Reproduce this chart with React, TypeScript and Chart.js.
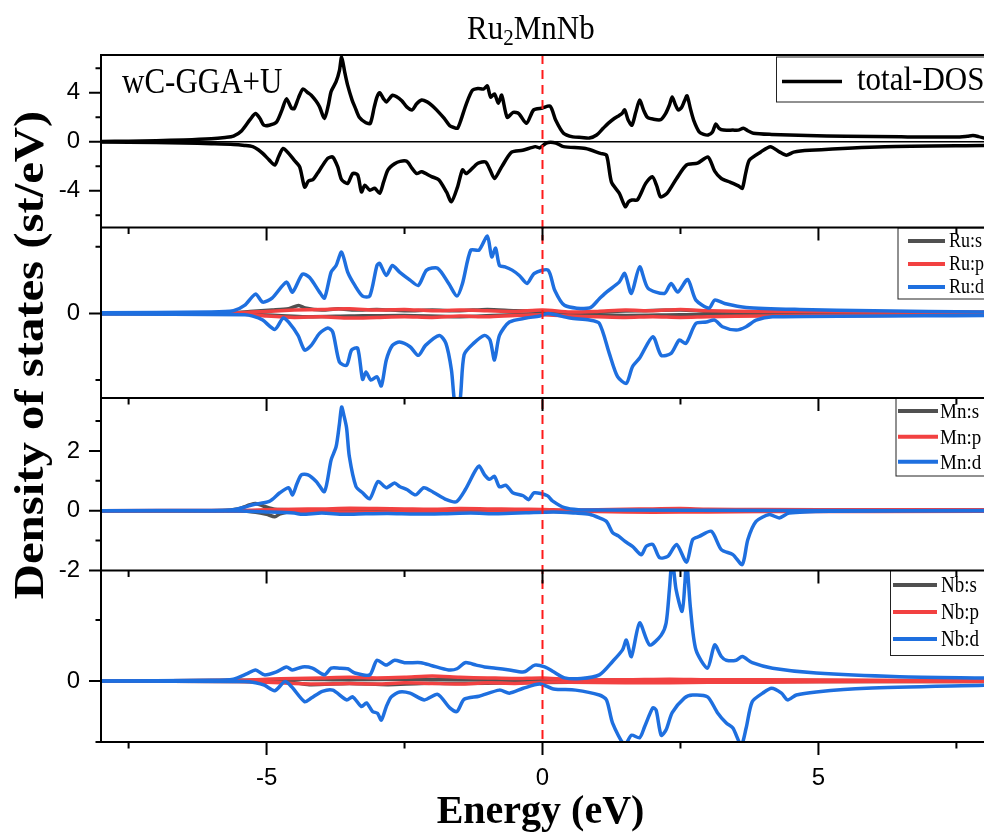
import React, { useEffect, useRef } from 'react';
import { Chart, registerables } from 'chart.js';

Chart.register(...registerables);

type Pt = [number, number];

// ---------- axes / ticks ----------
const E_MIN = -8;
const E_MAX = 8;
const FERMI = 0;
const X_MAJOR = [-5, 0, 5];
const X_MINOR = [-7.5, -2.5, 2.5, 7.5];

const TOT_RANGE = [-7, 7.08];
const TOT_MAJOR = [-4, 0, 4];
const TOT_MINOR = [-6, -2, 2, 6];
const RU_RANGE = [-1.27, 1.29];
const RU_MAJOR = [0];
const RU_MINOR = [-1, 1];
const MN_RANGE = [-2, 3.77];
const MN_MAJOR = [-2, 0, 2];
const MN_MINOR = [-1, 1, 3];
const NB_RANGE = [-1, 1.81];
const NB_MAJOR = [0];
const NB_MINOR = [-1, 1];

// ---------- data (E in eV, DOS in st/eV) ----------
const totalUp: Pt[] = [[-8,0.02],[-7.5,0.05],[-7,0.09],[-6.5,0.15],[-6,0.25],[-5.75,0.35],[-5.6,0.45],[-5.45,0.9],[-5.3,1.8],[-5.2,2.3],[-5.12,1.9],[-5.05,1.35],[-4.95,1.35],[-4.82,1.6],[-4.72,2.6],[-4.64,3.5],[-4.55,2.75],[-4.5,2.7],[-4.42,3.6],[-4.34,4.3],[-4.25,4.0],[-4.19,3.8],[-4.1,3.3],[-4.04,2.85],[-3.95,1.9],[-3.88,3.0],[-3.83,4.1],[-3.74,4.9],[-3.68,5.8],[-3.64,6.9],[-3.58,5.6],[-3.53,4.6],[-3.45,3.4],[-3.4,2.85],[-3.32,2.0],[-3.2,1.55],[-3.12,1.5],[-3.05,2.8],[-3.0,3.65],[-2.95,4.0],[-2.88,3.5],[-2.83,3.25],[-2.76,3.6],[-2.72,3.8],[-2.65,3.7],[-2.55,3.35],[-2.46,2.85],[-2.36,2.6],[-2.28,3.1],[-2.19,3.4],[-2.09,3.25],[-2.0,2.95],[-1.92,2.6],[-1.78,1.9],[-1.68,1.3],[-1.6,1.15],[-1.54,1.1],[-1.48,1.75],[-1.38,3.1],[-1.27,4.2],[-1.17,4.35],[-1.07,4.3],[-1.0,4.55],[-0.94,3.65],[-0.87,3.9],[-0.8,3.15],[-0.74,3.8],[-0.64,2.0],[-0.53,2.4],[-0.43,2.3],[-0.29,1.5],[-0.16,2.6],[0,2.75],[0.14,2.9],[0.24,1.75],[0.38,0.7],[0.55,0.4],[0.71,0.35],[0.85,0.3],[0.98,0.55],[1.1,1.1],[1.19,1.5],[1.3,1.9],[1.39,2.15],[1.44,2.3],[1.49,2.6],[1.55,1.8],[1.62,1.35],[1.69,2.4],[1.76,3.4],[1.83,2.6],[1.9,2.0],[2.0,1.85],[2.14,1.8],[2.23,2.3],[2.3,3.0],[2.35,3.65],[2.41,3.0],[2.46,2.6],[2.52,2.8],[2.57,3.3],[2.62,3.75],[2.68,2.7],[2.74,1.75],[2.84,0.8],[2.92,0.6],[3.0,0.55],[3.08,0.8],[3.14,1.45],[3.2,1.1],[3.28,0.95],[3.45,0.95],[3.55,0.95],[3.64,1.1],[3.72,0.9],[3.82,0.7],[4.15,0.6],[4.8,0.5],[5.5,0.45],[6.5,0.4],[7.5,0.38],[7.7,0.45],[7.8,0.5],[7.9,0.42],[8,0.3]];
const totalDown: Pt[] = [[-8,-0.02],[-7,-0.06],[-6.5,-0.1],[-6,-0.16],[-5.6,-0.22],[-5.4,-0.3],[-5.25,-0.4],[-5.15,-0.65],[-5.07,-0.95],[-4.95,-1.5],[-4.85,-1.9],[-4.78,-1.2],[-4.7,-0.55],[-4.6,-0.95],[-4.5,-1.5],[-4.4,-2.05],[-4.31,-3.7],[-4.24,-3.2],[-4.16,-3.1],[-4.08,-2.6],[-4.0,-2.05],[-3.89,-1.35],[-3.8,-1.25],[-3.71,-2.05],[-3.64,-3.1],[-3.53,-3.4],[-3.44,-2.6],[-3.35,-2.7],[-3.28,-4.1],[-3.22,-3.55],[-3.13,-3.95],[-3.04,-3.8],[-2.95,-4.2],[-2.88,-3.3],[-2.8,-2.3],[-2.68,-1.8],[-2.58,-1.6],[-2.46,-1.6],[-2.36,-2.2],[-2.28,-2.6],[-2.19,-2.45],[-2.01,-2.85],[-1.88,-3.1],[-1.74,-4.1],[-1.65,-4.9],[-1.54,-3.7],[-1.45,-2.3],[-1.38,-2.6],[-1.17,-1.75],[-1.03,-1.65],[-0.95,-2.3],[-0.87,-3.0],[-0.74,-2.05],[-0.56,-0.85],[-0.36,-0.7],[-0.13,-0.4],[-0.05,-0.5],[0.07,-0.1],[0.24,-0.1],[0.38,-0.4],[0.78,-0.55],[1.05,-0.95],[1.16,-1.1],[1.25,-3.3],[1.39,-4.2],[1.5,-5.3],[1.56,-4.9],[1.62,-4.75],[1.72,-4.75],[1.87,-3.4],[1.99,-2.85],[2.07,-3.6],[2.14,-4.5],[2.26,-4.2],[2.43,-3.0],[2.61,-1.9],[2.81,-1.75],[3.0,-1.25],[3.12,-2.4],[3.24,-3.0],[3.4,-3.3],[3.55,-3.6],[3.62,-3.8],[3.68,-2.6],[3.75,-1.5],[3.95,-0.85],[4.13,-0.4],[4.3,-0.85],[4.42,-1.1],[4.55,-0.85],[4.84,-0.7],[6.2,-0.4],[8,-0.3]];

const ruSUp: Pt[] = [[-8,0],[-5.6,0.01],[-5.3,0.03],[-4.9,0.05],[-4.6,0.07],[-4.42,0.12],[-4.3,0.08],[-4,0.05],[-3.7,0.07],[-3.4,0.05],[-3,0.06],[-2.5,0.04],[-2,0.05],[-1.5,0.04],[-1,0.06],[-0.5,0.04],[0,0.03],[0.5,0.01],[1.2,0.03],[1.8,0.04],[2.5,0.05],[3,0.03],[4,0.01],[8,0.01]];
const ruSDown: Pt[] = [[-8,0],[-5.5,-0.01],[-4.8,-0.03],[-4.3,-0.05],[-3.5,-0.04],[-2.5,-0.03],[-1.5,-0.05],[-0.5,-0.02],[0.5,-0.01],[1.5,-0.03],[2.5,-0.02],[3.5,-0.02],[8,-0.01]];
const ruPUp: Pt[] = [[-8,0],[-5.5,0.01],[-5,0.03],[-4.5,0.05],[-4,0.06],[-3.5,0.07],[-3,0.05],[-2.5,0.06],[-2,0.04],[-1.5,0.05],[-1,0.04],[-0.5,0.03],[0,0.05],[0.5,0.02],[1,0.03],[1.5,0.05],[2,0.04],[2.5,0.06],[3,0.04],[4,0.03],[6,0.02],[8,0.02]];
const ruPDown: Pt[] = [[-8,0],[-5.5,-0.01],[-5,-0.04],[-4.5,-0.06],[-4,-0.05],[-3.5,-0.07],[-3,-0.06],[-2.5,-0.05],[-2,-0.06],[-1.5,-0.04],[-1,-0.05],[-0.5,-0.03],[0,-0.02],[0.5,-0.04],[1,-0.05],[1.5,-0.06],[2,-0.05],[2.5,-0.06],[3,-0.05],[4,-0.04],[6,-0.03],[8,-0.02]];
const ruDUp: Pt[] = [[-8,0.01],[-6,0.02],[-5.6,0.04],[-5.4,0.12],[-5.2,0.29],[-5.07,0.17],[-4.9,0.23],[-4.64,0.47],[-4.53,0.32],[-4.35,0.59],[-4.22,0.54],[-4.04,0.32],[-3.95,0.23],[-3.83,0.62],[-3.74,0.72],[-3.64,0.92],[-3.53,0.62],[-3.4,0.42],[-3.26,0.26],[-3.13,0.26],[-3.0,0.72],[-2.95,0.75],[-2.83,0.57],[-2.72,0.72],[-2.59,0.62],[-2.4,0.5],[-2.25,0.42],[-2.1,0.65],[-1.9,0.68],[-1.7,0.45],[-1.55,0.26],[-1.45,0.45],[-1.3,0.95],[-1.15,0.95],[-1.0,1.16],[-0.92,0.85],[-0.85,0.98],[-0.78,0.72],[-0.68,0.7],[-0.55,0.65],[-0.42,0.57],[-0.28,0.45],[-0.15,0.6],[0.1,0.65],[0.22,0.35],[0.4,0.12],[0.85,0.08],[1.03,0.22],[1.16,0.32],[1.39,0.47],[1.49,0.6],[1.61,0.3],[1.76,0.7],[1.91,0.38],[2.21,0.3],[2.33,0.45],[2.45,0.32],[2.63,0.51],[2.78,0.2],[3.02,0.08],[3.12,0.2],[3.3,0.15],[3.69,0.09],[4.66,0.06],[6,0.04],[8,0.02]];
const ruDDown: Pt[] = [[-8,-0.01],[-5.4,-0.02],[-5.25,-0.04],[-5.07,-0.1],[-4.85,-0.24],[-4.7,-0.07],[-4.6,-0.13],[-4.43,-0.33],[-4.31,-0.55],[-4.19,-0.48],[-4.04,-0.3],[-3.89,-0.22],[-3.8,-0.28],[-3.68,-0.73],[-3.55,-0.78],[-3.46,-0.55],[-3.35,-0.52],[-3.26,-0.99],[-3.2,-0.88],[-3.11,-1.0],[-3.0,-0.95],[-2.92,-1.09],[-2.83,-0.7],[-2.72,-0.48],[-2.59,-0.43],[-2.4,-0.5],[-2.25,-0.63],[-2.12,-0.48],[-1.87,-0.33],[-1.75,-0.45],[-1.65,-0.85],[-1.58,-1.4],[-1.5,-1.35],[-1.42,-0.62],[-1.25,-0.45],[-1.05,-0.33],[-0.95,-0.4],[-0.87,-0.7],[-0.78,-0.33],[-0.6,-0.13],[-0.3,-0.07],[-0.05,-0.04],[0.1,0.0],[0.5,-0.07],[0.85,-0.1],[1.03,-0.15],[1.21,-0.6],[1.36,-0.95],[1.52,-1.05],[1.63,-0.8],[1.76,-0.67],[2.0,-0.35],[2.15,-0.63],[2.33,-0.6],[2.48,-0.4],[2.6,-0.45],[2.78,-0.15],[2.97,-0.13],[3.12,-0.1],[3.26,-0.2],[3.51,-0.25],[3.69,-0.2],[3.87,-0.1],[4.17,-0.05],[8,-0.03]];

const mnSUp: Pt[] = [[-8,0],[-5.8,0.01],[-5.5,0.07],[-5.3,0.2],[-5.2,0.24],[-5.05,0.15],[-4.85,0.05],[-4,0.03],[-2,0.02],[0,0.01],[8,0]];
const mnSDown: Pt[] = [[-8,0],[-5.5,-0.01],[-5.2,-0.05],[-5.0,-0.12],[-4.85,-0.2],[-4.75,-0.1],[-4.5,-0.03],[-2,-0.02],[8,0]];
const mnPUp: Pt[] = [[-8,0],[-5.5,0.01],[-5,0.03],[-4.5,0.05],[-4,0.06],[-3.5,0.08],[-3,0.07],[-2.5,0.06],[-2,0.05],[-1.5,0.07],[-1,0.06],[-0.5,0.05],[0,0.04],[0.5,0.02],[1,0.03],[1.5,0.05],[2,0.06],[2.5,0.07],[3,0.05],[4,0.04],[6,0.03],[8,0.03]];
const mnPDown: Pt[] = [[-8,0],[-5.5,-0.01],[-5,-0.02],[-4,-0.04],[-3,-0.05],[-2,-0.04],[-1,-0.05],[0,-0.03],[1,-0.03],[2,-0.05],[3,-0.04],[4,-0.03],[8,-0.02]];
const mnDUp: Pt[] = [[-8,0],[-6,0.01],[-5.6,0.03],[-5.4,0.12],[-5.25,0.2],[-4.95,0.31],[-4.76,0.6],[-4.6,0.77],[-4.53,0.53],[-4.45,0.9],[-4.37,1.2],[-4.25,1.2],[-4.1,0.98],[-3.95,0.64],[-3.83,1.7],[-3.74,2.14],[-3.68,2.9],[-3.64,3.47],[-3.6,3.2],[-3.55,2.77],[-3.5,1.81],[-3.38,0.81],[-3.26,0.6],[-3.13,0.4],[-2.98,0.98],[-2.83,0.77],[-2.68,0.93],[-2.59,0.81],[-2.45,0.7],[-2.3,0.53],[-2.15,0.77],[-1.98,0.62],[-1.74,0.37],[-1.56,0.3],[-1.4,0.7],[-1.23,1.3],[-1.15,1.5],[-1.05,1.2],[-0.96,1.05],[-0.87,1.15],[-0.78,0.8],[-0.66,0.85],[-0.54,0.6],[-0.35,0.5],[-0.25,0.37],[-0.15,0.6],[0.09,0.5],[0.18,0.33],[0.4,0.1],[0.65,0.03],[1.0,0.02],[8,0]];
const mnDDown: Pt[] = [[-8,0],[-5.5,-0.01],[-5,-0.04],[-4.5,-0.08],[-4.35,-0.12],[-4,-0.08],[-3.6,-0.12],[-3.2,-0.1],[-2.8,-0.09],[-2.3,-0.11],[-1.8,-0.1],[-1.3,-0.08],[-0.8,-0.1],[-0.3,-0.07],[0.2,-0.04],[0.6,-0.08],[0.85,-0.12],[1.03,-0.24],[1.16,-0.36],[1.27,-0.73],[1.38,-0.85],[1.49,-1.02],[1.63,-1.19],[1.79,-1.47],[1.88,-1.19],[2.0,-1.13],[2.12,-1.57],[2.27,-1.53],[2.43,-1.13],[2.61,-1.72],[2.72,-0.97],[2.84,-0.86],[3.06,-0.69],[3.24,-1.3],[3.45,-1.47],[3.62,-1.8],[3.72,-0.97],[3.87,-0.36],[4.11,-0.13],[4.29,-0.24],[4.47,-0.08],[5.2,-0.02],[8,0.01]];

const nbSUp: Pt[] = [[-8,0],[-5.5,0.01],[-4.5,0.03],[-3.5,0.02],[-2.5,0.03],[-1.5,0.02],[-0.5,0.02],[0.5,0.01],[2.5,0.02],[4,0.01],[8,0]];
const nbSDown: Pt[] = [[-8,0],[-5.5,-0.01],[-4.5,-0.03],[-4.2,-0.06],[-3.5,-0.04],[-2.8,-0.06],[-2.2,-0.04],[-1.5,-0.04],[-0.5,-0.03],[0.5,-0.02],[2.3,-0.02],[4,-0.01],[8,-0.01]];
const nbPUp: Pt[] = [[-8,0],[-5.5,0.01],[-5,0.03],[-4.5,0.04],[-4,0.05],[-3.5,0.06],[-3,0.05],[-2.5,0.06],[-2,0.08],[-1.5,0.06],[-1,0.05],[-0.5,0.04],[0,0.05],[0.5,0.02],[1.5,0.02],[2.3,0.03],[3,0.02],[4,0.02],[6,0.01],[8,0.01]];
const nbPDown: Pt[] = [[-8,0],[-5.5,-0.01],[-5,-0.02],[-4.5,-0.04],[-4,-0.05],[-3.5,-0.04],[-3,-0.05],[-2.5,-0.03],[-2,-0.04],[-1.5,-0.05],[-1,-0.03],[-0.5,-0.04],[0,-0.02],[0.5,-0.02],[1.5,-0.03],[2.3,-0.03],[3,-0.02],[4,-0.02],[6,-0.01],[8,-0.01]];
const nbDUp: Pt[] = [[-8,0],[-6,0.01],[-5.6,0.03],[-5.35,0.12],[-5.2,0.18],[-5.04,0.1],[-4.82,0.15],[-4.64,0.23],[-4.53,0.18],[-4.35,0.23],[-4.17,0.21],[-3.95,0.1],[-3.83,0.21],[-3.68,0.21],[-3.53,0.2],[-3.4,0.13],[-3.13,0.1],[-3.0,0.34],[-2.83,0.26],[-2.68,0.34],[-2.5,0.3],[-2.2,0.3],[-2.0,0.25],[-1.7,0.18],[-1.55,0.2],[-1.4,0.3],[-1.2,0.26],[-1.05,0.23],[-0.85,0.21],[-0.6,0.18],[-0.33,0.15],[-0.14,0.26],[0.04,0.23],[0.2,0.15],[0.4,0.05],[0.7,0.04],[1.03,0.1],[1.27,0.32],[1.45,0.51],[1.52,0.67],[1.61,0.4],[1.76,0.95],[1.94,0.59],[2.15,0.75],[2.24,0.95],[2.3,1.5],[2.35,2.0],[2.42,1.5],[2.53,1.14],[2.58,1.6],[2.61,2.0],[2.68,1.2],[2.78,0.51],[2.99,0.21],[3.12,0.59],[3.24,0.4],[3.33,0.34],[3.51,0.34],[3.62,0.4],[3.8,0.3],[4.17,0.21],[4.96,0.13],[6.47,0.07],[8,0.05]];
const nbDDown: Pt[] = [[-8,0],[-5.4,-0.01],[-5.2,-0.03],[-5.04,-0.07],[-4.85,-0.16],[-4.67,-0.01],[-4.55,-0.09],[-4.31,-0.34],[-4.19,-0.28],[-3.99,-0.17],[-3.8,-0.15],[-3.55,-0.31],[-3.44,-0.26],[-3.28,-0.42],[-3.19,-0.36],[-3.08,-0.5],[-2.99,-0.53],[-2.92,-0.64],[-2.83,-0.42],[-2.74,-0.26],[-2.59,-0.18],[-2.4,-0.2],[-2.14,-0.31],[-1.9,-0.22],[-1.68,-0.44],[-1.55,-0.5],[-1.42,-0.3],[-1.15,-0.25],[-0.78,-0.15],[-0.6,-0.2],[-0.35,-0.12],[-0.05,-0.05],[0.2,-0.13],[0.6,-0.15],[1.03,-0.23],[1.16,-0.31],[1.27,-0.69],[1.49,-1.05],[1.61,-0.89],[1.76,-0.93],[1.85,-0.75],[2.0,-0.44],[2.06,-0.48],[2.15,-0.89],[2.24,-0.8],[2.35,-0.52],[2.57,-0.28],[2.72,-0.23],[2.99,-0.26],[3.17,-0.52],[3.33,-0.69],[3.45,-0.77],[3.6,-1.05],[3.69,-0.77],[3.8,-0.34],[3.99,-0.2],[4.15,-0.12],[4.33,-0.2],[4.44,-0.31],[4.6,-0.23],[4.96,-0.18],[5.87,-0.12],[8,-0.07]];

// ---------- styling ----------
const SERIF = '"Liberation Serif", "Times New Roman", Times, serif';
const SANS = '"Liberation Sans", Arial, Helvetica, sans-serif';
const C_TOT = '#000000';
const C_S = '#505050';
const C_P = '#f24141';
const C_D = '#1e6fdf';
const LW = 3.5;

const toXY = (pts: Pt[]) => pts.map(([x, y]) => ({ x, y }));

function ds(label: string, pts: Pt[], color: string, axis: string, order: number, legend: boolean) {
  return {
    label,
    data: toXY(pts),
    borderColor: color,
    backgroundColor: color,
    borderWidth: LW,
    pointRadius: 0,
    tension: 0.25,
    fill: false,
    yAxisID: axis,
    order,
    borderJoinStyle: 'round' as const,
    borderCapStyle: 'round' as const,
    showInLegendBox: legend,
  };
}

const PANELS = [
  { id: 'yTot', range: TOT_RANGE, major: TOT_MAJOR, minor: TOT_MINOR, h: 172.5, w: 4 },
  { id: 'yRu', range: RU_RANGE, major: RU_MAJOR, minor: RU_MINOR, h: 170.5, w: 3 },
  { id: 'yMn', range: MN_RANGE, major: MN_MAJOR, minor: MN_MINOR, h: 172.5, w: 2 },
  { id: 'yNb', range: NB_RANGE, major: NB_MAJOR, minor: NB_MINOR, h: 171.5, w: 1 },
];

function stretchedText(ctx: CanvasRenderingContext2D, text: string, x: number, y: number, font: string, sx: number, sy: number, align: CanvasTextAlign = 'left') {
  ctx.save();
  ctx.translate(x, y);
  ctx.scale(sx, sy);
  ctx.font = font;
  ctx.textAlign = align;
  ctx.textBaseline = 'alphabetic';
  ctx.fillStyle = '#000';
  ctx.fillText(text, 0, 0);
  ctx.restore();
}

type LegendSpec = {
  axis: string; left: number; topOff: number; height: number;
  rows: number[]; lineX0: number; lineX1: number; textX: number; font: number; sy: number; base: number;
};

const LEGENDS: LegendSpec[] = [
  { axis: 'yTot', left: 776.5, topOff: 2, height: 45, rows: [24.5], lineX0: 782, lineX1: 842, textX: 857, font: 31, sy: 1.06, base: 8 },
  { axis: 'yRu', left: 898, topOff: 0.5, height: 71, rows: [13, 36, 59], lineX0: 908, lineX1: 945, textX: 949, font: 18, sy: 1.15, base: 6 },
  { axis: 'yMn', left: 896, topOff: 0, height: 78, rows: [13, 38.7, 63.7], lineX0: 898, lineX1: 938, textX: 940, font: 19, sy: 1.15, base: 7 },
  { axis: 'yNb', left: 890.5, topOff: 0, height: 85, rows: [14.5, 41.5, 68.5], lineX0: 893, lineX1: 937, textX: 941, font: 19, sy: 1.2, base: 7 },
];

const decorPlugin = {
  id: 'decor',
  beforeDatasetDraw(chart: any, args: any) {
    const ys = args.meta.yScale;
    const ca = chart.chartArea;
    const ctx = chart.ctx;
    ctx.save();
    ctx.beginPath();
    ctx.rect(ca.left, ys.top, ca.right - ca.left, ys.bottom - ys.top);
    ctx.clip();
  },
  afterDatasetDraw(chart: any) {
    chart.ctx.restore();
  },
  beforeDatasetsDraw(chart: any) {
    const ctx = chart.ctx;
    const ca = chart.chartArea;
    const y0 = chart.scales.yTot.getPixelForValue(0);
    ctx.save();
    ctx.strokeStyle = '#000';
    ctx.lineWidth = 1.6;
    ctx.beginPath();
    ctx.moveTo(ca.left, y0);
    ctx.lineTo(ca.right, y0);
    ctx.stroke();
    ctx.restore();
  },
  afterDatasetsDraw(chart: any) {
    const ctx = chart.ctx;
    const ca = chart.chartArea;
    const xs = chart.scales.x;

    // Fermi level
    const xf = xs.getPixelForValue(FERMI);
    ctx.save();
    ctx.strokeStyle = '#ff1a1a';
    ctx.lineWidth = 2;
    ctx.setLineDash([9, 6]);
    ctx.beginPath();
    ctx.moveTo(xf, ca.top);
    ctx.lineTo(xf, ca.bottom);
    ctx.stroke();
    ctx.restore();

    // legends
    const datasets = chart.data.datasets;
    LEGENDS.forEach((lg) => {
      const ys = chart.scales[lg.axis];
      const top = ys.top + lg.topOff;
      ctx.save();
      ctx.fillStyle = '#fff';
      ctx.fillRect(lg.left, top, ca.right - lg.left + 20, lg.height);
      ctx.strokeStyle = '#222';
      ctx.lineWidth = 1;
      ctx.strokeRect(lg.left, top, ca.right - lg.left + 20, lg.height);
      const items = datasets.filter((d: any) => d.yAxisID === lg.axis && d.showInLegendBox);
      items.forEach((d: any, i: number) => {
        const yy = top + lg.rows[i];
        ctx.strokeStyle = d.borderColor;
        ctx.lineWidth = lg.axis === 'yTot' ? 3.5 : 4;
        ctx.beginPath();
        ctx.moveTo(lg.lineX0, yy);
        ctx.lineTo(lg.lineX1, yy);
        ctx.stroke();
        stretchedText(ctx, d.label, lg.textX, yy + lg.base, `${lg.font}px ${SERIF}`, 1, lg.sy);
      });
      ctx.restore();
    });

    // frame
    ctx.save();
    ctx.strokeStyle = '#000';
    ctx.lineWidth = 2;
    ctx.beginPath();
    ctx.moveTo(ca.left, ca.top);
    ctx.lineTo(ca.left, ca.bottom);
    ctx.moveTo(ca.left - 1, ca.top);
    ctx.lineTo(ca.right, ca.top);
    PANELS.forEach((p) => {
      const s = chart.scales[p.id];
      ctx.moveTo(ca.left - 1, s.bottom);
      ctx.lineTo(ca.right, s.bottom);
    });
    ctx.stroke();

    // y ticks and per-panel bottom x ticks
    ctx.lineWidth = 2;
    ctx.beginPath();
    PANELS.forEach((p) => {
      const s = chart.scales[p.id];
      p.major.forEach((v) => {
        const y = s.getPixelForValue(v);
        ctx.moveTo(ca.left - 12, y);
        ctx.lineTo(ca.left, y);
      });
      p.minor.forEach((v) => {
        const y = s.getPixelForValue(v);
        ctx.moveTo(ca.left - 5.5, y);
        ctx.lineTo(ca.left, y);
      });
      X_MAJOR.forEach((v) => {
        const x = xs.getPixelForValue(v);
        ctx.moveTo(x, s.bottom);
        ctx.lineTo(x, s.bottom + 13);
      });
      X_MINOR.forEach((v) => {
        const x = xs.getPixelForValue(v);
        ctx.moveTo(x, s.bottom);
        ctx.lineTo(x, s.bottom + 6.5);
      });
    });
    ctx.stroke();
    ctx.restore();
  },
  afterDraw(chart: any) {
    const ctx = chart.ctx;
    const ca = chart.chartArea;
    // title Ru2MnNb
    ctx.save();
    const big = `31px ${SERIF}`;
    const small = `21px ${SERIF}`;
    ctx.font = big;
    const wRu = ctx.measureText('Ru').width;
    ctx.font = small;
    const w2 = ctx.measureText('2').width;
    const tx = 467;
    stretchedText(ctx, 'Ru', tx, 39, big, 1, 1.1);
    stretchedText(ctx, '2', tx + wRu, 45, small, 1, 1.1);
    stretchedText(ctx, 'MnNb', tx + wRu + w2, 39, big, 1, 1.1);
    ctx.restore();

    // method annotation
    stretchedText(ctx, 'wC-GGA+U', 122, 92.7, `31px ${SERIF}`, 1, 1.16);

    // y title
    ctx.save();
    ctx.translate(43, 355);
    ctx.rotate(-Math.PI / 2);
    ctx.scale(1.16, 1);
    ctx.font = `bold 42px ${SERIF}`;
    ctx.textAlign = 'center';
    ctx.textBaseline = 'alphabetic';
    ctx.fillStyle = '#000';
    ctx.fillText('Density of states (st/eV)', 0, 0);
    ctx.restore();

    // x title
    stretchedText(ctx, 'Energy (eV)', (ca.left + ca.right) / 2 - 2, 823, `bold 40px ${SERIF}`, 1, 1, 'center');
  },
};

function yScale(p: typeof PANELS[number]) {
  return {
    type: 'linear' as const,
    position: 'left' as const,
    stack: 'dos',
    stackWeight: p.h,
    weight: p.w,
    min: p.range[0],
    max: p.range[1],
    afterBuildTicks: (s: any) => {
      s.ticks = p.major.map((v) => ({ value: v }));
    },
    afterFit: (s: any) => {
      s.width = 101;
    },
    grid: { display: false, drawTicks: false, tickLength: 0 },
    border: { display: false },
    ticks: {
      autoSkip: false,
      padding: 21,
      color: '#000',
      font: { family: SANS, size: 24 },
      callback: (v: any) => String(v),
    },
  };
}

export default function App() {
  const ref = useRef<HTMLCanvasElement>(null);
  useEffect(() => {
    const datasets: any[] = [
      ds('total-DOS', totalUp, C_TOT, 'yTot', 0, true),
      ds('total-DOS', totalDown, C_TOT, 'yTot', 0, false),
      ds('Ru:s', ruSUp, C_S, 'yRu', 2, true),
      ds('Ru:p', ruPUp, C_P, 'yRu', 1, true),
      ds('Ru:d', ruDUp, C_D, 'yRu', 0, true),
      ds('Ru:s', ruSDown, C_S, 'yRu', 2, false),
      ds('Ru:p', ruPDown, C_P, 'yRu', 1, false),
      ds('Ru:d', ruDDown, C_D, 'yRu', 0, false),
      ds('Mn:s', mnSUp, C_S, 'yMn', 2, true),
      ds('Mn:p', mnPUp, C_P, 'yMn', 1, true),
      ds('Mn:d', mnDUp, C_D, 'yMn', 0, true),
      ds('Mn:s', mnSDown, C_S, 'yMn', 2, false),
      ds('Mn:p', mnPDown, C_P, 'yMn', 1, false),
      ds('Mn:d', mnDDown, C_D, 'yMn', 0, false),
      ds('Nb:s', nbSUp, C_S, 'yNb', 2, true),
      ds('Nb:p', nbPUp, C_P, 'yNb', 1, true),
      ds('Nb:d', nbDUp, C_D, 'yNb', 0, true),
      ds('Nb:s', nbSDown, C_S, 'yNb', 2, false),
      ds('Nb:p', nbPDown, C_P, 'yNb', 1, false),
      ds('Nb:d', nbDDown, C_D, 'yNb', 0, false),
    ];
    const scales: any = {
      x: {
        type: 'linear',
        position: 'bottom',
        min: E_MIN,
        max: E_MAX,
        afterBuildTicks: (s: any) => {
          s.ticks = X_MAJOR.map((v) => ({ value: v }));
        },
        afterFit: (s: any) => {
          s.height = 90;
        },
        grid: { display: false, drawTicks: false, tickLength: 0 },
        border: { display: false },
        ticks: {
          autoSkip: false,
          maxRotation: 0,
          padding: 22,
          color: '#000',
          font: { family: SANS, size: 24 },
          callback: (v: any) => String(v),
        },
      },
    };
    PANELS.forEach((p) => {
      scales[p.id] = yScale(p);
    });
    const chart = new Chart(ref.current as HTMLCanvasElement, {
      type: 'line',
      data: { datasets },
      options: {
        animation: false,
        responsive: false,
        devicePixelRatio: 1,
        events: [],
        layout: { padding: { top: 55, left: 0, right: 0, bottom: 0 } },
        plugins: { legend: { display: false }, tooltip: { enabled: false }, title: { display: false } },
        scales,
      },
      plugins: [decorPlugin],
    } as any);
    return () => chart.destroy();
  }, []);
  return (
    <div style={{ position: 'fixed', left: 0, top: 0, width: 984, height: 832, background: '#fff' }}>
      <canvas ref={ref} width={984} height={832} style={{ display: 'block', width: 984, height: 832 }} />
    </div>
  );
}
